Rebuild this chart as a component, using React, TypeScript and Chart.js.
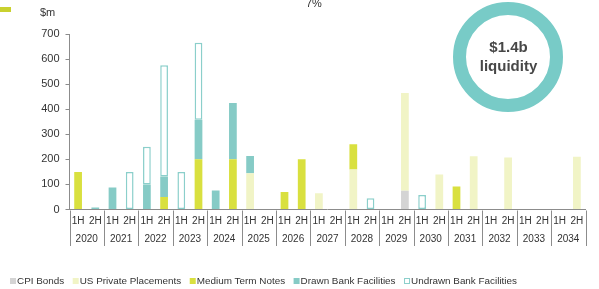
import React, { useEffect, useRef } from "react";
import { Chart, registerables } from "chart.js";

Chart.register(...registerables);

const years = ["2020","2021","2022","2023","2024","2025","2026","2027","2028","2029","2030","2031","2032","2033","2034"];
const halves = ["1H", "2H"];
const categories: string[] = years.flatMap((y) => halves.map((h) => `${h} ${y}`));
const yTicks = [0, 100, 200, 300, 400, 500, 600, 700];

// values per half-year, 2020 1H .. 2034 2H ($m)
const cpiBonds =        [0,0, 0,0, 0,0, 0,0, 0,0, 0,0, 0,0, 0,0, 0,0, 0,75, 0,0, 0,0, 0,0, 0,0, 0,0];
const usPrivate =       [0,0, 0,0, 0,0, 0,0, 0,0, 145,0, 0,0, 65,0, 160,0, 0,390, 0,140, 0,212, 0,207, 0,0, 0,210];
const mediumTermNotes = [150,0, 0,0, 0,50, 0,200, 0,200, 0,0, 70,200, 0,0, 100,0, 0,0, 0,0, 92,0, 0,0, 0,0, 0,0];
const drawnBank =       [0,8, 88,0, 100,82, 0,158, 76,225, 68,0, 0,0, 0,0, 0,0, 0,0, 0,0, 0,0, 0,0, 0,0, 0,0];
const undrawnBank =     [0,0, 0,150, 150,443, 150,307, 0,0, 0,0, 0,0, 0,0, 0,45, 0,0, 58,0, 0,0, 0,0, 0,0, 0,0];

const seriesNames = ["CPI Bonds", "US Private Placements", "Medium Term Notes", "Drawn Bank Facilities", "Undrawn Bank Facilities"];

const FONT = "'Liberation Sans', Arial, sans-serif";
const TEXT = "#333333";
const AXIS = "#8c8c8c";

const nz = (arr: number[]) => arr.map((v) => (v === 0 ? null : v));

const extrasPlugin = {
  id: "extras",
  afterDraw(chart: any) {
    const ctx = chart.ctx as CanvasRenderingContext2D;
    const xs = chart.scales.x;
    const ys = chart.scales.y;
    const step = xs.getPixelForValue(1) - xs.getPixelForValue(0);
    const y0 = ys.getPixelForValue(0);
    ctx.save();
    // year separators & labels
    ctx.strokeStyle = AXIS;
    ctx.lineWidth = 1;
    for (let i = 0; i <= years.length; i++) {
      const x = Math.round(xs.getPixelForValue(2 * i) - step / 2) + 0.5;
      ctx.beginPath();
      ctx.moveTo(x, Math.round(y0) + 0.5);
      ctx.lineTo(x, 246);
      ctx.stroke();
    }
    ctx.fillStyle = TEXT;
    ctx.font = `10px ${FONT}`;
    ctx.textAlign = "center";
    ctx.textBaseline = "middle";
    years.forEach((yr, i) => {
      const x = (xs.getPixelForValue(2 * i) + xs.getPixelForValue(2 * i + 1)) / 2;
      ctx.fillText(yr, x, 239.5);
    });
    // unit label
    ctx.font = `11px ${FONT}`;
    ctx.textAlign = "left";
    ctx.fillText("$m", 40, 12.5);
    // cut-off top text
    ctx.textBaseline = "alphabetic";
    ctx.fillText("7%", 306, 7);
    // cut-off marker top-left
    ctx.fillStyle = "#c9d12f";
    ctx.fillRect(0, 7, 11, 5);
    // liquidity ring
    ctx.beginPath();
    ctx.arc(508, 57, 48.5, 0, Math.PI * 2);
    ctx.strokeStyle = "#78cbc7";
    ctx.lineWidth = 13;
    ctx.stroke();
    ctx.fillStyle = "#474747";
    ctx.font = `bold 15px ${FONT}`;
    ctx.textAlign = "center";
    ctx.textBaseline = "middle";
    ctx.fillText("$1.4b", 508.5, 47.5);
    ctx.fillText("liquidity", 508.5, 66.5);
    // legend
    ctx.font = `9.9px ${FONT}`;
    ctx.textAlign = "left";
    ctx.textBaseline = "middle";
    let lx = 10;
    const ly = 281;
    chart.data.datasets.forEach((ds: any) => {
      if (ds.borderWidth && ds.borderWidth > 0) {
        ctx.fillStyle = "#ffffff";
        ctx.fillRect(lx, ly - 3, 6, 6);
        ctx.strokeStyle = ds.borderColor;
        ctx.lineWidth = 1;
        ctx.strokeRect(lx + 0.5, ly - 2.5, 5, 5);
      } else {
        ctx.fillStyle = ds.backgroundColor;
        ctx.fillRect(lx, ly - 3, 6, 6);
      }
      ctx.fillStyle = TEXT;
      ctx.fillText(ds.label, lx + 7, ly);
      lx += 7 + ctx.measureText(ds.label).width + 8.5;
    });
    ctx.restore();
  },
};

export default function App() {
  const ref = useRef<HTMLCanvasElement | null>(null);
  useEffect(() => {
    document.body.style.margin = "0";
    if (!ref.current) return;
    const common = { stack: "s", barPercentage: 0.45, categoryPercentage: 1, borderWidth: 0 };
    const chart = new Chart(ref.current, {
      type: "bar",
      data: {
        labels: categories,
        datasets: [
          { ...common, label: seriesNames[0], data: nz(cpiBonds), backgroundColor: "#d4d4d4" },
          { ...common, label: seriesNames[1], data: nz(usPrivate), backgroundColor: "#f1f4c6" },
          { ...common, label: seriesNames[2], data: nz(mediumTermNotes), backgroundColor: "#d9e03f" },
          { ...common, label: seriesNames[3], data: nz(drawnBank), backgroundColor: "#86cbc6" },
          {
            ...common,
            label: seriesNames[4],
            data: nz(undrawnBank),
            backgroundColor: "#ffffff",
            borderColor: "#8bcfcb",
            borderWidth: 1.5,
            borderSkipped: false,
          },
        ],
      },
      options: {
        responsive: false,
        animation: false,
        devicePixelRatio: 1,
        layout: { padding: { left: 0, right: 13.5, top: 34, bottom: 0 } },
        plugins: { legend: { display: false }, tooltip: { enabled: false } },
        scales: {
          x: {
            stacked: true,
            grid: { display: false, drawTicks: false },
            border: { display: true, color: AXIS, width: 1 },
            ticks: {
              color: TEXT,
              font: { family: FONT, size: 10 },
              padding: 6,
              maxRotation: 0,
              autoSkip: false,
              callback: (_v: any, i: number) => halves[i % 2],
            },
            afterFit: (s: any) => { s.height = 289 - 209.5; },
          },
          y: {
            stacked: true,
            min: 0,
            max: 700,
            afterBuildTicks: (s: any) => { s.ticks = yTicks.map((v) => ({ value: v })); },
            grid: { drawOnChartArea: false, drawTicks: true, tickLength: 4, color: AXIS },
            border: { display: true, color: AXIS, width: 1 },
            ticks: { color: TEXT, font: { family: FONT, size: 11 }, padding: 6 },
            afterFit: (s: any) => { s.width = 69.5; },
          },
        },
      },
      plugins: [extrasPlugin],
    });
    return () => chart.destroy();
  }, []);
  return (
    <div style={{ width: 599, height: 289, position: "relative", background: "#fff" }}>
      <canvas ref={ref} width={599} height={289} />
    </div>
  );
}
